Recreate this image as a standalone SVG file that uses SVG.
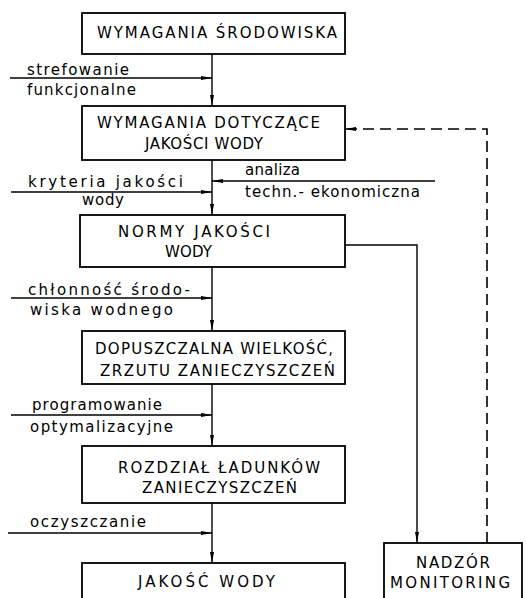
<svg xmlns="http://www.w3.org/2000/svg" width="527" height="598" viewBox="0 0 527 598">
<defs>
<marker id="arr" markerUnits="userSpaceOnUse" markerWidth="12" markerHeight="6" viewBox="0 0 12 6" refX="11" refY="3" orient="auto">
<path d="M0,1 L11,3 L0,5 Z" fill="#000"/>
</marker>
<style>
.box{fill:#fff;stroke:#000;stroke-width:1.8}
.ln{fill:none;stroke:#000;stroke-width:1.4}
.dash{fill:none;stroke:#000;stroke-width:1.6;stroke-dasharray:11,6}
.t{font-family:"DejaVu Sans","Liberation Sans",sans-serif;font-size:15px;fill:#000}
.c{font-family:"DejaVu Sans","Liberation Sans",sans-serif;font-size:15px;fill:#000}
</style>
</defs>
<rect width="527" height="598" fill="#fff"/>
<g id="connectors">
<line class="ln" x1="212" y1="54" x2="212" y2="106" marker-end="url(#arr)"/>
<line class="ln" x1="212" y1="160" x2="212" y2="215" marker-end="url(#arr)"/>
<line class="ln" x1="212" y1="267" x2="212" y2="331" marker-end="url(#arr)"/>
<line class="ln" x1="212" y1="384" x2="212" y2="446" marker-end="url(#arr)"/>
<line class="ln" x1="212" y1="503" x2="212" y2="563" marker-end="url(#arr)"/>
<line class="ln" x1="10" y1="78" x2="212" y2="78" marker-end="url(#arr)"/>
<line class="ln" x1="11" y1="192" x2="212" y2="192" marker-end="url(#arr)"/>
<line class="ln" x1="435" y1="181" x2="212" y2="181" marker-end="url(#arr)"/>
<line class="ln" x1="11" y1="298" x2="212" y2="298" marker-end="url(#arr)"/>
<line class="ln" x1="11" y1="415" x2="212" y2="415" marker-end="url(#arr)"/>
<line class="ln" x1="8" y1="533" x2="212" y2="533" marker-end="url(#arr)"/>
<polyline class="ln" points="345,245 417,245 417,543" marker-end="url(#arr)"/>
<polyline class="dash" points="487,543 487,129 345,129" marker-end="url(#arr)"/>
</g>
<g id="labels" xml:space="preserve">
<text class="t" x="27" y="75" textLength="102" lengthAdjust="spacing">strefowanie</text>
<text class="t" x="27" y="95" textLength="109" lengthAdjust="spacing">funkcjonalne</text>
<text class="t" x="28" y="187" textLength="155" lengthAdjust="spacing">kryteria  jakości</text>
<text class="t" x="82" y="205" textLength="42" lengthAdjust="spacing">wody</text>
<text class="t" x="245" y="175" textLength="55" lengthAdjust="spacing">analiza</text>
<text class="t" x="245" y="197" textLength="175" lengthAdjust="spacing">techn.- ekonomiczna</text>
<text class="t" x="28" y="295" textLength="162" lengthAdjust="spacing">chłonność  środo-</text>
<text class="t" x="30" y="315" textLength="143" lengthAdjust="spacing">wiska  wodnego</text>
<text class="t" x="32" y="410" textLength="130" lengthAdjust="spacing">programowanie</text>
<text class="t" x="30" y="432" textLength="143" lengthAdjust="spacing">optymalizacyjne</text>
<text class="t" x="30" y="527" textLength="116" lengthAdjust="spacing">oczyszczanie</text>
</g>
<g id="n1" xml:space="preserve">
<rect class="box" x="82" y="13" width="263" height="41"/>
<text class="c" x="97" y="38" textLength="240" lengthAdjust="spacing">WYMAGANIA   ŚRODOWISKA</text>
</g>
<g id="n2" xml:space="preserve">
<rect class="box" x="82" y="106" width="263" height="54"/>
<text class="c" x="97" y="128" textLength="223" lengthAdjust="spacing">WYMAGANIA  DOTYCZĄCE</text>
<text class="c" x="145" y="149" textLength="118" lengthAdjust="spacing">JAKOŚCI  WODY</text>
</g>
<g id="n3" xml:space="preserve">
<rect class="box" x="80" y="215" width="265" height="52"/>
<text class="c" x="118" y="237" textLength="152" lengthAdjust="spacing">NORMY  JAKOŚCI</text>
<text class="c" x="165" y="257" textLength="47" lengthAdjust="spacing">WODY</text>
</g>
<g id="n4" xml:space="preserve">
<rect class="box" x="82" y="331" width="263" height="53"/>
<text class="c" x="95" y="354" textLength="238" lengthAdjust="spacing">DOPUSZCZALNA  WIELKOŚĆ,</text>
<text class="c" x="100" y="376" textLength="235" lengthAdjust="spacing">ZRZUTU  ZANIECZYSZCZEŃ</text>
</g>
<g id="n5" xml:space="preserve">
<rect class="box" x="82" y="446" width="263" height="57"/>
<text class="c" x="118" y="473" textLength="202" lengthAdjust="spacing">ROZDZIAŁ  ŁADUNKÓW</text>
<text class="c" x="142" y="493" textLength="155" lengthAdjust="spacing">ZANIECZYSZCZEŃ</text>
</g>
<g id="n6" xml:space="preserve">
<rect class="box" x="82" y="563" width="263" height="50"/>
<text class="c" x="138" y="587" textLength="137" lengthAdjust="spacing">JAKOŚĆ  WODY</text>
</g>
<g id="n7">
<rect class="box" x="384" y="543" width="138" height="70"/>
<text class="c" x="416" y="568" textLength="74" lengthAdjust="spacing">NADZÓR</text>
<text class="c" x="390" y="588" textLength="120" lengthAdjust="spacing">MONITORING</text>
</g>
</svg>
